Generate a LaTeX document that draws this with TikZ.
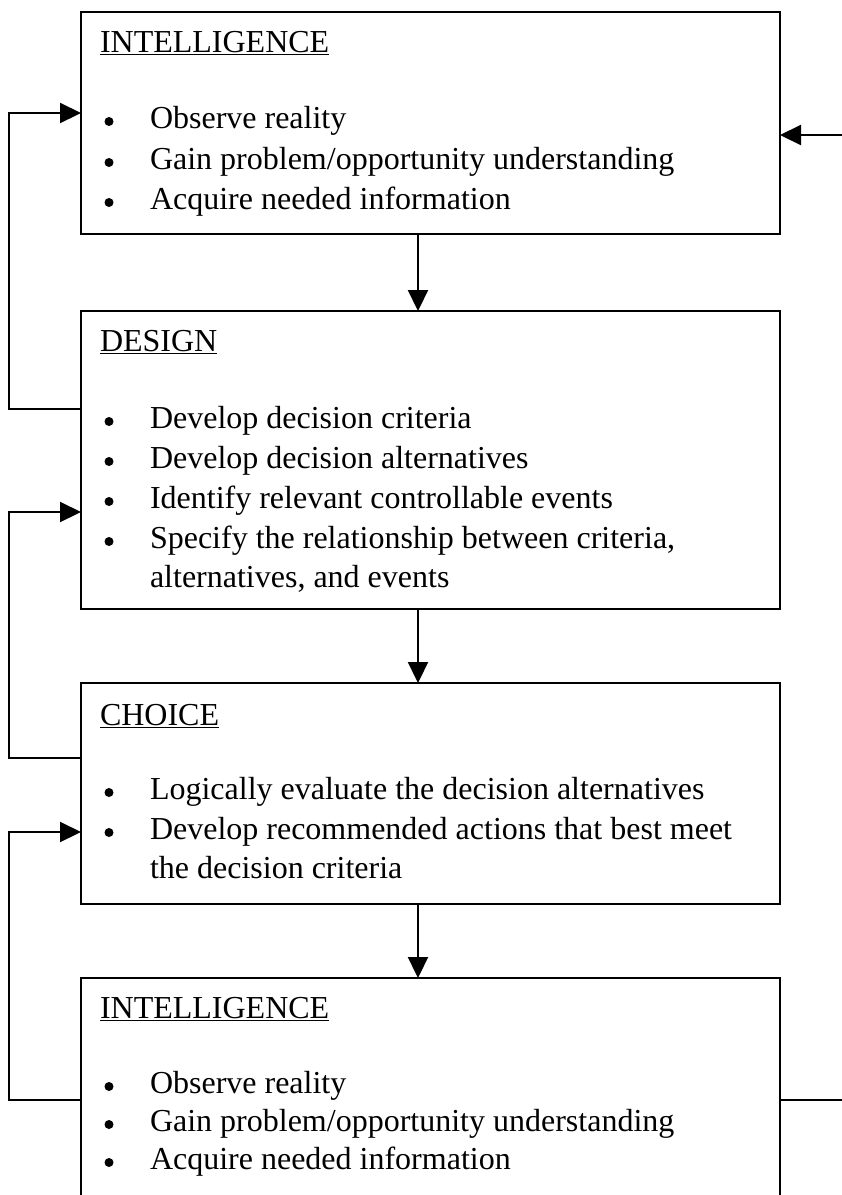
\documentclass[tikz,border=0pt]{standalone}
\usepackage{fontspec}
\setmainfont{Liberation Serif}
\usetikzlibrary{arrows.meta}
\tikzset{
  boxstyle/.style={draw, line width=2.5pt, inner sep=0pt, outer sep=0pt, minimum width=699pt, anchor=north west},
  txt/.style={inner sep=0pt, outer sep=0pt, anchor=base west, font=\fontsize{32}{39}\selectfont},
  bul/.style={circle, fill, inner sep=0pt, minimum size=9pt, yshift=6.5pt},
  arr/.style={line width=2.2pt, -{Triangle[length=21pt,width=20pt]}}
}
\begin{document}
\begin{tikzpicture}[x=1pt,y=-1pt]
\useasboundingbox (0,0) rectangle (842,1195);
\clip (0,0) rectangle (842,1195);
% boxes
\node[boxstyle, minimum height=222pt] (b1) at (81,12) {};
\node[boxstyle, minimum height=298pt] (b2) at (81,311) {};
\node[boxstyle, minimum height=221pt] (b3) at (81,683) {};
\node[boxstyle, minimum height=222pt] (b4) at (81,978) {};
% box 1 text
\node[txt] (t1) at (100,52) {\underline{INTELLIGENCE}};
\node[bul] (p11) at (109,128) {};
\node[txt] (l11) at (150,128) {Observe reality};
\node[bul] (p12) at (109,169) {};
\node[txt] (l12) at (150,169) {Gain problem/opportunity understanding};
\node[bul] (p13) at (109,209) {};
\node[txt] (l13) at (150,209) {Acquire needed information};
% box 2 text
\node[txt] (t2) at (100,351) {\underline{DESIGN}};
\node[bul] (p21) at (109,428) {};
\node[txt] (l21) at (150,428) {Develop decision criteria};
\node[bul] (p22) at (109,468) {};
\node[txt] (l22) at (150,468) {Develop decision alternatives};
\node[bul] (p23) at (109,508) {};
\node[txt] (l23) at (150,508) {Identify relevant controllable events};
\node[bul] (p24) at (109,548) {};
\node[txt] (l24) at (150,548) {Specify the relationship between criteria,};
\node[txt] (l25) at (150,587) {alternatives, and events};
% box 3 text
\node[txt] (t3) at (100,725) {\underline{CHOICE}};
\node[bul] (p31) at (109,799) {};
\node[txt] (l31) at (150,799) {Logically evaluate the decision alternatives};
\node[bul] (p32) at (109,839) {};
\node[txt] (l32) at (150,839) {Develop recommended actions that best meet};
\node[txt] (l33) at (150,878) {the decision criteria};
% box 4 text
\node[txt] (t4) at (100,1018) {\underline{INTELLIGENCE}};
\node[bul] (p41) at (109,1093) {};
\node[txt] (l41) at (150,1093) {Observe reality};
\node[bul] (p42) at (109,1131) {};
\node[txt] (l42) at (150,1131) {Gain problem/opportunity understanding};
\node[bul] (p43) at (109,1169) {};
\node[txt] (l43) at (150,1169) {Acquire needed information};
% helper coordinates
\coordinate (ax) at (418,0);
\coordinate (lx) at (9,0);
\coordinate (rx) at (880,0);
\coordinate (f1a) at (0,409);
\coordinate (f1b) at (0,113);
\coordinate (f2a) at (0,758);
\coordinate (f2b) at (0,512);
\coordinate (f3a) at (0,1100);
\coordinate (f3b) at (0,832);
\coordinate (r1) at (0,1100);
\coordinate (r2) at (0,135);
% downward arrows
\draw[arr] (b1.south -| ax) -- (b2.north -| ax);
\draw[arr] (b2.south -| ax) -- (b3.north -| ax);
\draw[arr] (b3.south -| ax) -- (b4.north -| ax);
% feedback loops
\draw[arr] (b2.west |- f1a) -- (lx |- f1a) -- (lx |- f1b) -- (b1.west |- f1b);
\draw[arr] (b3.west |- f2a) -- (lx |- f2a) -- (lx |- f2b) -- (b2.west |- f2b);
\draw[arr] (b4.west |- f3a) -- (lx |- f3a) -- (lx |- f3b) -- (b3.west |- f3b);
\draw[arr] (b4.east |- r1) -- (rx |- r1) -- (rx |- r2) -- (b1.east |- r2);
\end{tikzpicture}
\end{document}
